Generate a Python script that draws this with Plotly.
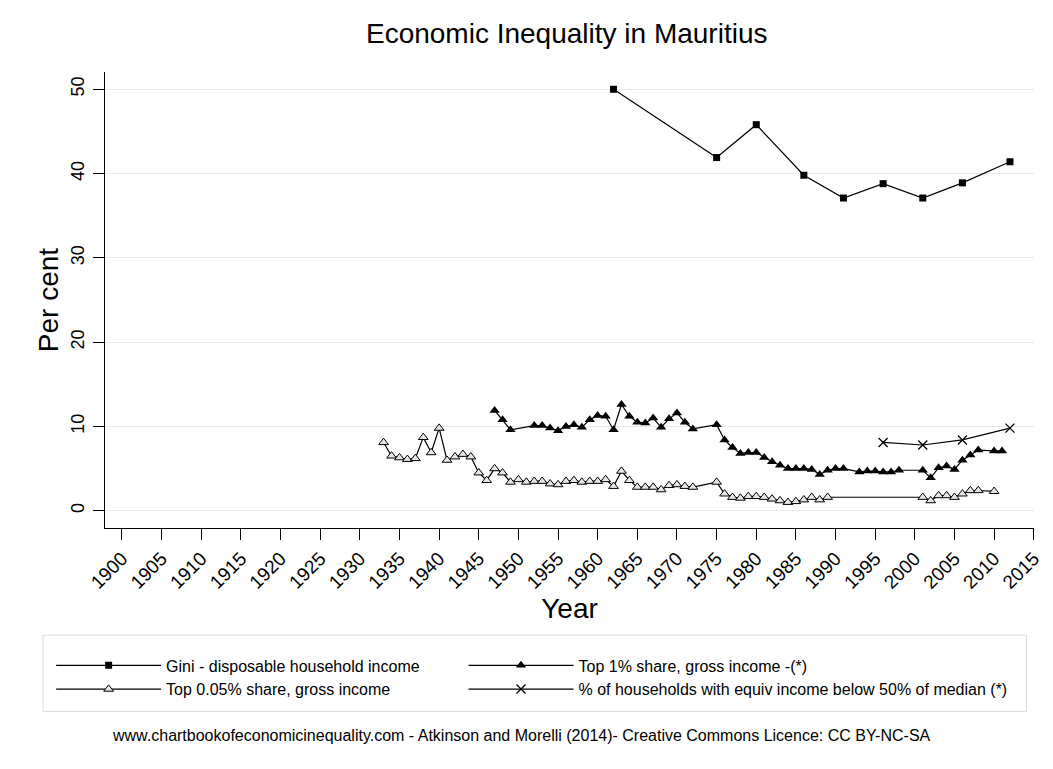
import plotly.graph_objects as go

# ---------------- data ----------------
gini_years = [1962, 1975, 1980, 1986, 1991, 1996, 2001, 2006, 2012]
gini_vals = [50.0, 41.9, 45.8, 39.8, 37.1, 38.8, 37.1, 38.9, 41.4]

top1_years = [1947, 1948, 1949, 1952, 1953, 1954, 1955, 1956, 1957, 1958, 1959,
              1960, 1961, 1962, 1963, 1964, 1965, 1966, 1967, 1968, 1969, 1970,
              1971, 1972, 1975, 1976, 1977, 1978, 1979, 1980, 1981, 1982, 1983,
              1984, 1985, 1986, 1987, 1988, 1989, 1990, 1991, 1993, 1994, 1995,
              1996, 1997, 1998, 2001, 2002, 2003, 2004, 2005, 2006, 2007, 2008,
              2010, 2011]
top1_vals = [11.9, 10.8, 9.6, 10.1, 10.1, 9.8, 9.5, 10.0, 10.2, 9.9, 10.8,
             11.3, 11.2, 9.6, 12.6, 11.2, 10.5, 10.4, 11.0, 9.9, 10.9, 11.6,
             10.5, 9.7, 10.2, 8.4, 7.5, 6.8, 6.9, 6.9, 6.3, 5.8, 5.4,
             5.0, 5.0, 5.0, 4.9, 4.3, 4.8, 5.0, 5.0, 4.6, 4.7, 4.7,
             4.6, 4.6, 4.8, 4.8, 3.9, 5.1, 5.3, 4.9, 6.0, 6.6, 7.2,
             7.1, 7.1]

top005_years = [1933, 1934, 1935, 1936, 1937, 1938, 1939, 1940, 1941, 1942, 1943,
                1944, 1945, 1946, 1947, 1948, 1949, 1950, 1951, 1952, 1953, 1954,
                1955, 1956, 1957, 1958, 1959, 1960, 1961, 1962, 1963, 1964, 1965,
                1966, 1967, 1968, 1969, 1970, 1971, 1972, 1975, 1976, 1977, 1978,
                1979, 1980, 1981, 1982, 1983, 1984, 1985, 1986, 1987, 1988, 1989,
                2001, 2002, 2003, 2004, 2005, 2006, 2007, 2008, 2010]
top005_vals = [8.1, 6.5, 6.3, 6.1, 6.2, 8.7, 6.9, 9.8, 6.0, 6.4, 6.7,
               6.4, 4.5, 3.6, 5.0, 4.5, 3.4, 3.7, 3.4, 3.5, 3.5, 3.2,
               3.1, 3.5, 3.6, 3.4, 3.5, 3.5, 3.7, 2.9, 4.7, 3.6, 2.8,
               2.8, 2.8, 2.5, 3.0, 3.1, 2.9, 2.8, 3.4, 2.0, 1.6, 1.5,
               1.7, 1.7, 1.6, 1.4, 1.2, 1.0, 1.1, 1.3, 1.6, 1.3, 1.6,
               1.6, 1.2, 1.8, 1.8, 1.6, 2.0, 2.4, 2.4, 2.3]

pov_years = [1996, 2001, 2006, 2012]
pov_vals = [8.1, 7.8, 8.4, 9.8]

x_ticks = list(range(1900, 2016, 5))
y_ticks = [0, 10, 20, 30, 40, 50]

FONT = "Liberation Sans, Arial, sans-serif"
line_style = dict(color="black", width=1.2)

fig = go.Figure()
fig.add_trace(go.Scatter(
    x=gini_years, y=gini_vals, mode="lines+markers",
    name="Gini - disposable household income",
    line=line_style, legend="legend",
    marker=dict(symbol="square", size=7, color="black"),
))
fig.add_trace(go.Scatter(
    x=top1_years, y=top1_vals, mode="lines+markers",
    name="Top 1% share, gross income -(*)",
    line=line_style, legend="legend2",
    marker=dict(symbol="triangle-up", size=9, color="black"),
))
fig.add_trace(go.Scatter(
    x=top005_years, y=top005_vals, mode="lines+markers",
    name="Top 0.05% share, gross income",
    line=line_style, legend="legend",
    marker=dict(symbol="triangle-up", size=8.5, color="#e6e6e6",
                line=dict(color="black", width=1)),
))
fig.add_trace(go.Scatter(
    x=pov_years, y=pov_vals, mode="lines+markers",
    name="% of households with equiv income below 50% of median (*)",
    line=line_style, legend="legend2",
    marker=dict(symbol="x-thin-open", size=9, color="black",
                line=dict(color="black", width=1.3)),
))

legend_common = dict(
    orientation="v", y=-0.264, yanchor="top",
    bgcolor="rgba(0,0,0,0)", borderwidth=0,
    font=dict(size=16, color="black"),
    itemwidth=105, traceorder="normal",
)

fig.update_layout(
    width=1045, height=761,
    paper_bgcolor="white", plot_bgcolor="white",
    font=dict(family=FONT, color="black"),
    margin=dict(l=97, r=18.5, t=64, b=241.3, autoexpand=False),
    title=dict(text="Economic Inequality in Mauritius", x=0.497, xref="paper",
               xanchor="center", y=1 - 25 / 761, yanchor="middle",
               font=dict(size=28, color="black")),
    showlegend=True,
    legend=dict(x=-0.058, xanchor="left", **legend_common),
    legend2=dict(x=0.3859, xanchor="left", **legend_common),
    shapes=[dict(
        type="rect", xref="paper", yref="paper",
        x0=-0.0667, x1=0.9919, y0=-0.4022, y1=-0.2353,
        line=dict(color="#dddddd", width=1), fillcolor="rgba(0,0,0,0)",
        layer="below",
    )],
    annotations=[dict(
        text="www.chartbookofeconomicinequality.com - Atkinson and Morelli (2014)- Creative Commons Licence: CC BY-NC-SA",
        xref="paper", yref="paper", x=0.4486, y=-0.4549,
        xanchor="center", yanchor="middle", showarrow=False,
        font=dict(size=16, color="black"),
    )],
)

fig.update_xaxes(
    range=[1897.86, 2015.03], tickmode="array", tickvals=x_ticks,
    ticktext=[str(t) for t in x_ticks], tickangle=-45,
    ticks="outside", ticklen=11, tickwidth=1.2, tickcolor="black",
    showline=True, linecolor="black", linewidth=1.2, mirror=False,
    showgrid=False, zeroline=False,
    tickfont=dict(size=19),
    title=dict(text="Year", font=dict(size=28), standoff=4),
)
fig.update_yaxes(
    range=[-2.05, 52.05], tickmode="array", tickvals=y_ticks,
    ticktext=[str(t) for t in y_ticks], tickangle=-90,
    ticks="outside", ticklen=11, tickwidth=1.2, tickcolor="black",
    showline=True, linecolor="black", linewidth=1.2, mirror=False,
    showgrid=True, gridcolor="#e8e8e8", gridwidth=1, zeroline=False,
    tickfont=dict(size=18), ticklabelstandoff=2,
    title=dict(text="Per cent", font=dict(size=28), standoff=0),
)

fig.write_html("out.html")
